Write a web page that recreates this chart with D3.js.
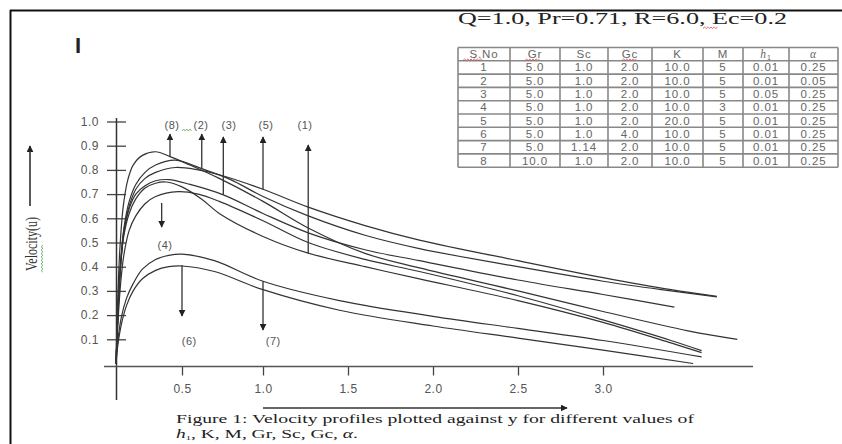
<!DOCTYPE html>
<html><head><meta charset="utf-8">
<script src="https://cdn.jsdelivr.net/npm/d3@7"></script>
<style>body{margin:0;background:#fff}svg{display:block}</style>
</head><body>
<svg id="chart" width="842" height="444"></svg>
<script>
// ---------- data ----------
const yTicks = [0.1,0.2,0.3,0.4,0.5,0.6,0.7,0.8,0.9,1.0];
const xTicks = [0.5,1.0,1.5,2.0,2.5,3.0];
const seriesNames = ["1","2","3","4","5","6","7","8"];
const curve1 = [[0,0],[0.015,0.2],[0.035,0.4],[0.06,0.53],[0.1,0.62],[0.15,0.68],[0.22,0.725],[0.3,0.745],[0.38,0.75],[0.5,0.73],[0.62,0.68],[0.73,0.62],[1.0,0.525],[1.266,0.456],[1.6,0.40],[1.92,0.35],[2.5,0.26],[3.0,0.17],[3.4,0.085],[3.58,0.045]];
const curve2 = [[0,0],[0.015,0.22],[0.035,0.42],[0.06,0.56],[0.1,0.67],[0.15,0.74],[0.22,0.79],[0.3,0.82],[0.45,0.84],[0.622,0.805],[0.8,0.76],[1.0,0.69],[1.266,0.61],[1.6,0.53],[1.92,0.475],[2.5,0.40],[3.0,0.34],[3.4,0.30],[3.67,0.275]];
const curve3 = [[0,0],[0.015,0.21],[0.035,0.41],[0.06,0.54],[0.1,0.64],[0.15,0.70],[0.22,0.735],[0.3,0.755],[0.4,0.76],[0.55,0.74],[0.755,0.697],[1.0,0.62],[1.266,0.54],[1.6,0.47],[1.92,0.425],[2.5,0.345],[3.0,0.285],[3.42,0.233]];
const curve4 = [[0,0],[0.015,0.17],[0.035,0.33],[0.06,0.45],[0.1,0.55],[0.15,0.61],[0.22,0.66],[0.3,0.69],[0.47,0.71],[0.6,0.70],[0.73,0.67],[1.0,0.59],[1.266,0.50],[1.6,0.43],[1.92,0.38],[2.5,0.28],[3.0,0.18],[3.4,0.095],[3.58,0.053]];
const curve5 = [[0,0],[0.015,0.21],[0.035,0.41],[0.06,0.55],[0.1,0.65],[0.15,0.72],[0.22,0.765],[0.3,0.79],[0.45,0.81],[0.6,0.80],[0.73,0.78],[1.0,0.72],[1.266,0.646],[1.6,0.57],[1.92,0.51],[2.5,0.425],[3.0,0.355],[3.4,0.305],[3.67,0.278]];
const curve6 = [[0,0],[0.015,0.08],[0.04,0.16],[0.08,0.24],[0.13,0.30],[0.2,0.35],[0.3,0.385],[0.4,0.40],[0.5,0.403],[0.7,0.38],[1.0,0.305],[1.45,0.22],[2.0,0.155],[2.5,0.105],[3.0,0.055],[3.53,0.0]];
const curve7 = [[0,0],[0.015,0.1],[0.04,0.19],[0.08,0.27],[0.13,0.33],[0.2,0.39],[0.3,0.43],[0.4,0.447],[0.5,0.452],[0.7,0.425],[1.0,0.34],[1.45,0.26],[2.0,0.195],[2.5,0.145],[3.0,0.095],[3.58,0.027]];
const curve8 = [[0,0],[0.012,0.25],[0.03,0.48],[0.055,0.65],[0.09,0.76],[0.13,0.82],[0.2,0.86],[0.3,0.875],[0.409,0.855],[0.55,0.82],[0.73,0.765],[1.0,0.67],[1.266,0.56],[1.6,0.455],[1.92,0.395],[2.5,0.30],[3.0,0.215],[3.5,0.135],[3.79,0.10]];
const allCurves = [curve1,curve2,curve3,curve4,curve5,curve6,curve7,curve8];

// arrows: label, x, start y, tip y, label x, label y
const arrowLabels = ["(8)","(2)","(3)","(5)","(1)","(4)","(6)","(7)"];
const arrowX      = [0.409,0.622,0.755,1.0,1.266,0.346,0.5,1.0];
const arrowFrom   = [0.855,0.805,0.697,0.72,0.456,0.663,0.407,0.34];
const arrowTo     = [0.948,0.948,0.936,0.936,0.903,0.564,0.196,0.138];
const labelX      = [0.424,0.617,0.79,1.018,1.247,0.371,0.545,1.06];
const labelY      = [0.986,0.986,0.986,0.986,0.986,0.49,0.093,0.093];

// table
const tableHeader = ["S.No","Gr","Sc","Gc","K","M","h1","α"];
const colSNo  = ["1","2","3","4","5","6","7","8"];
const colGr   = ["5.0","5.0","5.0","5.0","5.0","5.0","5.0","10.0"];
const colSc   = ["1.0","1.0","1.0","1.0","1.0","1.0","1.14","1.0"];
const colGc   = ["2.0","2.0","2.0","2.0","2.0","4.0","2.0","2.0"];
const colK    = ["10.0","10.0","10.0","10.0","20.0","10.0","10.0","10.0"];
const colM    = ["5","5","5","3","5","5","5","5"];
const colH1   = ["0.01","0.01","0.05","0.01","0.01","0.01","0.01","0.01"];
const colAlpha= ["0.25","0.05","0.25","0.25","0.25","0.25","0.25","0.25"];
const titleText = "Q=1.0, Pr=0.71, R=6.0, Ec=0.2";
const yLabel = "Velocity(u)";
const caption1 = "Figure 1: Velocity profiles plotted against y for different values of";

// ---------- drawing ----------
const svg = d3.select("#chart");
const x = d3.scaleLinear().domain([0,0.5,1.0,3.0]).range([116,182,263,603]);
const y = d3.scaleLinear().domain([0,1]).range([363.5,121.5]);
const grayText = "#555";
const serif = "Liberation Serif, Times New Roman, serif";
const sans = "Liberation Sans, Arial, sans-serif";

// frame
svg.append("line").attr("x1",10).attr("x2",842).attr("y1",10.5).attr("y2",10.5).attr("stroke","#111").attr("stroke-width",2);
svg.append("line").attr("x1",10.5).attr("x2",10.5).attr("y1",10).attr("y2",444).attr("stroke","#111").attr("stroke-width",2);
svg.append("text").attr("x",75).attr("y",53).attr("font-family",sans).attr("font-weight","bold").attr("font-size",22).attr("fill","#222").text("I");

// title
svg.append("text").attr("x",458).attr("y",24).attr("font-family",serif)
  .attr("font-size",17).attr("fill","#222").attr("textLength",329).attr("lengthAdjust","spacingAndGlyphs").text(titleText);
svg.append("path").attr("d",d3.range(0,10).map(i=>(i?"L":"M")+(703+i*1.6)+","+(i%2?27:28.5)).join(""))
  .attr("fill","none").attr("stroke","#d44").attr("stroke-width",0.8);

// y axis
const yAxisL = d3.axisLeft(y).tickValues(yTicks).tickFormat(d3.format(".1f")).tickSize(9).tickPadding(8);
const gy = svg.append("g").attr("transform","translate(116,0)").call(yAxisL);
gy.select(".domain").remove();
gy.selectAll(".tick line").attr("stroke","#444").attr("stroke-width",1.3);
gy.selectAll("text").attr("font-family",sans).attr("font-size",12).attr("fill",grayText).attr("letter-spacing",0.5);
const yAxisR = d3.axisRight(y).tickValues(yTicks).tickFormat("").tickSize(10);
const gy2 = svg.append("g").attr("transform","translate(116,0)").call(yAxisR);
gy2.select(".domain").remove();
gy2.selectAll(".tick line").attr("stroke","#444").attr("stroke-width",1.3);
svg.append("line").attr("x1",116.5).attr("x2",116.5).attr("y1",118).attr("y2",400).attr("stroke","#333").attr("stroke-width",1.5);

// x axis
const xAxis = d3.axisBottom(x).tickValues(xTicks).tickFormat(d3.format(".1f")).tickSize(9).tickPadding(9);
const gx = svg.append("g").attr("transform","translate(0,366.5)").call(xAxis);
gx.select(".domain").remove();
gx.selectAll(".tick line").attr("stroke","#444").attr("stroke-width",1.3);
gx.selectAll("text").attr("font-family",sans).attr("font-size",12).attr("fill",grayText).attr("letter-spacing",0.5);
svg.append("line").attr("x1",104).attr("x2",753).attr("y1",366.5).attr("y2",366.5).attr("stroke","#555").attr("stroke-width",1.3);

// arrow markers
const defs = svg.append("defs");
defs.append("marker").attr("id","ah").attr("viewBox","0 0 10 10").attr("refX",9).attr("refY",5)
  .attr("markerWidth",7).attr("markerHeight",7).attr("markerUnits","userSpaceOnUse").attr("orient","auto")
  .append("path").attr("d","M0,0L10,5L0,10Z").attr("fill","#222");

// x direction arrow and y direction arrow
svg.append("line").attr("x1",x(1.0)).attr("x2",567).attr("y1",408).attr("y2",408).attr("stroke","#333").attr("stroke-width",1.3).attr("marker-end","url(#ah)");
svg.append("line").attr("x1",30).attr("x2",30).attr("y1",206).attr("y2",146).attr("stroke","#222").attr("stroke-width",1.5).attr("marker-end","url(#ah)");
svg.append("text").attr("transform","translate(37,244) rotate(-90)").attr("text-anchor","middle")
  .attr("font-family",serif).attr("font-size",16).attr("fill","#333")
  .attr("textLength",54).attr("lengthAdjust","spacingAndGlyphs").text(yLabel);
svg.append("path").attr("d",d3.range(0,17).map((i)=>(i?"L":"M")+(i%2?41:43)+","+(245+i*1.7)).join(""))
  .attr("fill","none").attr("stroke","#5a5").attr("stroke-width",0.8);

// curves
const line = d3.line().x(d=>x(d[0])).y(d=>y(d[1])).curve(d3.curveCatmullRom.alpha(0.5));
svg.append("g").selectAll("path").data(allCurves).join("path")
  .attr("d",line).attr("fill","none").attr("stroke","#333").attr("stroke-width",1.2);

// annotation arrows
const ann = svg.append("g");
arrowLabels.forEach((lab,i)=>{
  ann.append("line").attr("x1",x(arrowX[i])).attr("x2",x(arrowX[i]))
    .attr("y1",y(arrowFrom[i])).attr("y2",y(arrowTo[i])).attr("stroke","#333").attr("stroke-width",1.3).attr("marker-end","url(#ah)");
  ann.append("text").attr("x",x(labelX[i])).attr("y",y(labelY[i])).attr("dy","0.35em").attr("text-anchor","middle")
    .attr("font-family",sans).attr("font-size",11).attr("fill",grayText).attr("letter-spacing",0.5).text(lab);
});
svg.append("path").attr("d",d3.range(0,7).map((i)=>(i?"L":"M")+(182+i*1.6)+","+(i%2?129:131)).join(""))
  .attr("fill","none").attr("stroke","#6a6").attr("stroke-width",0.8);

// table
const colEdges = [458,510,560,608,652,703,743,789,838];
const rowTop = 47.5, rowH = 13.3;
const columns = [colSNo,colGr,colSc,colGc,colK,colM,colH1,colAlpha];
const tg = svg.append("g");
for (let r=0;r<=9;r++) tg.append("line").attr("x1",colEdges[0]).attr("x2",colEdges[8]).attr("y1",rowTop+r*rowH).attr("y2",rowTop+r*rowH).attr("stroke","#888").attr("stroke-width",1.6);
colEdges.forEach(cx=>tg.append("line").attr("x1",cx).attr("x2",cx).attr("y1",rowTop).attr("y2",rowTop+9*rowH).attr("stroke","#888").attr("stroke-width",1.6));
const cellFont = {"font-family":sans,"font-size":11.5,"fill":"#666","letter-spacing":0.9};
tableHeader.forEach((h,c)=>{
  const cx=(colEdges[c]+colEdges[c+1])/2, cy=rowTop+rowH/2+4;
  const t = tg.append("text").attr("x",cx).attr("y",cy).attr("text-anchor","middle");
  Object.entries(cellFont).forEach(([k,v])=>t.attr(k,v));
  if (h==="h1") { t.append("tspan").attr("font-style","italic").attr("font-family",serif).text("h"); t.append("tspan").attr("font-size",7).attr("dy",2).text("1"); }
  else if (h==="α") { t.attr("font-style","italic").attr("font-family",serif).text(h); }
  else t.text(h);
});
[[463,484],[525,541],[622,638]].forEach(([a,b])=>{
  tg.append("path").attr("d",d3.range(0,Math.floor((b-a)/1.6)).map(i=>(i?"L":"M")+(a+i*1.6)+","+(i%2?59:60.5)).join(""))
    .attr("fill","none").attr("stroke","#d44").attr("stroke-width",0.8);
});
columns.forEach((col,c)=>{
  col.forEach((v,r)=>{
    const t = tg.append("text").attr("x",(colEdges[c]+colEdges[c+1])/2).attr("y",rowTop+(r+1)*rowH+rowH/2+4).attr("text-anchor","middle").text(v);
    Object.entries(cellFont).forEach(([k,vv])=>t.attr(k,vv));
  });
});

// caption
svg.append("text").attr("x",176).attr("y",423).attr("font-family",serif)
  .attr("font-size",13.5).attr("fill","#222").attr("textLength",518).attr("lengthAdjust","spacingAndGlyphs").text(caption1);
const c2 = svg.append("text").attr("x",176).attr("y",438).attr("font-family",serif).attr("font-size",13).attr("fill","#222")
  .attr("textLength",182).attr("lengthAdjust","spacingAndGlyphs");
c2.append("tspan").attr("font-style","italic").text("h");
c2.append("tspan").attr("font-size",7).attr("dy",2).text("1");
c2.append("tspan").attr("dy",-2).text(", K, M, Gr, Sc, Gc, ");
c2.append("tspan").attr("font-style","italic").text("α");
c2.append("tspan").text(".");
</script>
</body></html>
